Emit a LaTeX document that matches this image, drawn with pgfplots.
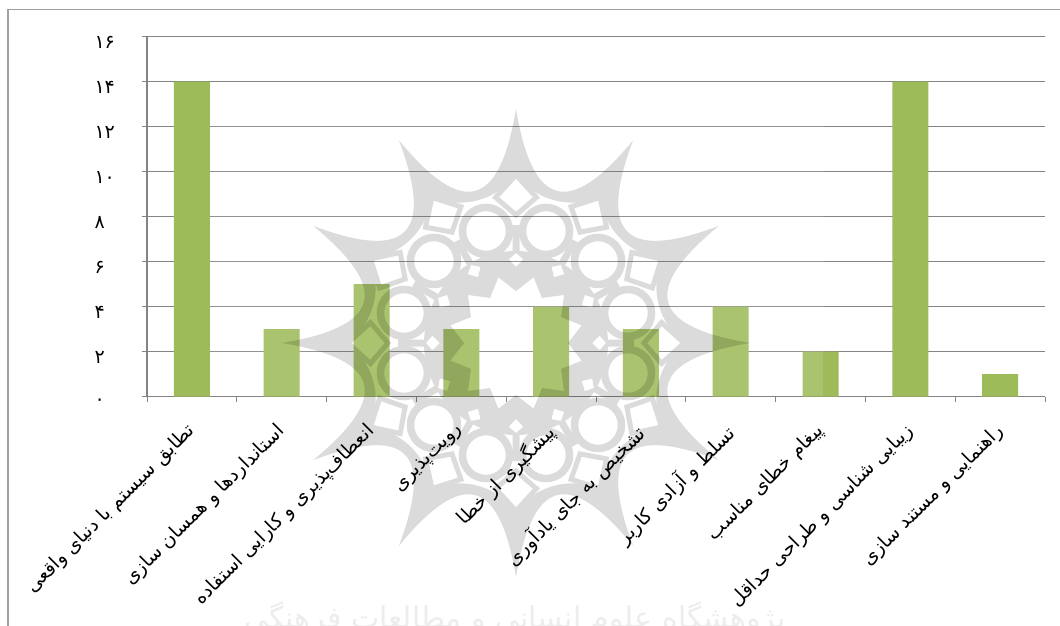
\documentclass[border=0pt]{standalone}
\usepackage{pgfplots}
\pgfplotsset{compat=1.18}
\usepackage{fontspec}
\TeXXeTstate=1
\newfontfamily\arabicfont[Script=Arabic]{DejaVu Sans}
\definecolor{gridc}{HTML}{848484}
\definecolor{barc}{HTML}{9DBB59}
\definecolor{framec}{HTML}{A0A0A0}
\begin{document}
\begin{tikzpicture}[x=1pt,y=1pt]
\path[use as bounding box,fill=white] (0,0) rectangle (1060,-626);
\draw[framec,line width=1.5pt] (8,-626) -- (8,-9.5) -- (1060,-9.5);
\begin{axis}[
  at={(147pt,-396.5pt)},anchor=south west,
  scale only axis,width=898pt,height=360pt,
  xmin=0,xmax=10,ymin=0,ymax=16,
  axis lines*=left,
  axis line style={gridc,line width=1.8pt,-},
  clip=false,
  tick align=outside,
  ymajorgrids,
  grid style={gridc,line width=1.8pt},
  ytick={0,2,...,16},
  yticklabels={۰,۲,۴,۶,۸,۱۰,۱۲,۱۴,۱۶},
  y tick style={gridc,line width=1.5pt},
  major tick length=5pt,
  y tick label style={font=\arabicfont\fontsize{19}{19}\selectfont,anchor=west,xshift=-51pt,yshift=-6pt,text=black},
  xtick={0.5,1.5,...,9.5},
  minor xtick={0,1,...,10},
  x tick style={draw=none},
  minor x tick style={draw=gridc,line width=1pt},
  minor tick length=5pt,
  xticklabels={
    \beginR تطابق سیستم با دنیای واقعی\endR,
    \beginR استانداردها و همسان سازی\endR,
    \beginR انعطاف‌پذیری و کارایی استفاده\endR,
    \beginR رویت‌پذیری\endR,
    \beginR پیشگیری از خطا\endR,
    \beginR تشخیص به جای یادآوری\endR,
    \beginR تسلط و آزادی کاربر\endR,
    \beginR پیغام خطای مناسب\endR,
    \beginR زیبایی شناسی و طراحی حداقل\endR,
    \beginR راهنمایی و مستند سازی\endR},
  x tick label style={font=\arabicfont\fontsize{19}{19}\selectfont,rotate=45,anchor=north east,inner sep=0pt,xshift=-19pt,yshift=-9.4pt,text=black},
]
\addplot[ybar,bar width=36pt,fill=barc,draw=none] coordinates {
 (0.5,14) (1.5,3) (2.5,5) (3.5,3) (4.5,4) (5.5,3) (6.5,4) (7.5,2) (8.5,14) (9.5,1)};
\end{axis}
% pale panel of the watermark image
\fill[white,opacity=.13] (210.5,-100) rectangle (823,-396);
% watermark emblem
\begin{scope}[shift={(516,-343)},transparency group,opacity=.14]
  \fill[black,even odd rule]
    (90:234)
    \foreach \a in {120,150,...,450}{ .. controls (\a-30+7:136) and (\a-7:136) .. (\a:234)} -- cycle
    (90:168)
    \foreach \a in {120,150,...,450}{ .. controls (\a-30+8:144) and (\a-8:144) .. (\a:168)} -- cycle;
  \foreach \a in {105,135,...,435}{
    \draw[black,line width=7.5pt] (\a:116) circle (23.5);
  }
  \foreach \a in {90,120,...,420}{
    \draw[black,line width=5pt,join=miter] (\a:168) -- (\a+8:147) -- (\a:128) -- (\a-8:147) -- cycle;
    \draw[black,line width=7pt] (\a:90) -- (\a:118);
  }
  \fill[black,even odd rule] (0,0) circle (92)
    (90:52)
    \foreach \a in {105,135,...,435}{ -- (\a:68) -- (\a+15:52)} -- cycle
    \foreach \a in {90,120,...,420}{
      (\a:76) -- (\a+5:84) -- (\a:90) -- (\a-5:84) -- cycle};
\end{scope}
% faint caption of the watermark image, cut by the page edge
\begin{scope}
  \clip (0,0) rectangle (1060,-626);
  \node[font=\arabicfont\fontsize{30}{30}\selectfont,text=black!7,anchor=base] at (515,-628)
    {\beginR پژوهشگاه علوم انسانی و مطالعات فرهنگی\endR};
\end{scope}
\end{tikzpicture}
\end{document}
